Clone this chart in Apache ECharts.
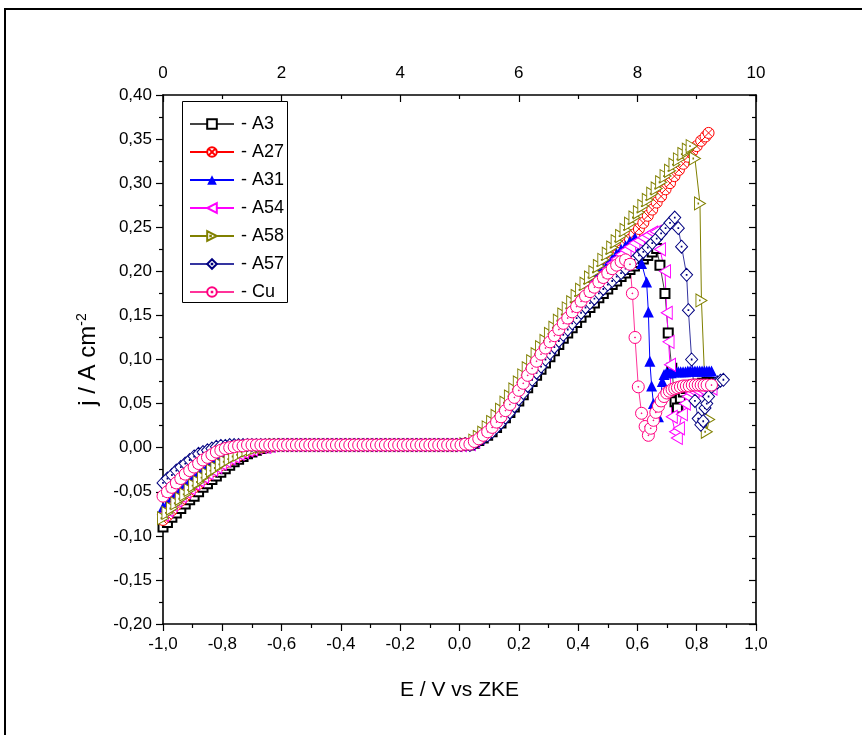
<!DOCTYPE html>
<html>
<head>
<meta charset="utf-8">
<script src="https://cdn.jsdelivr.net/npm/echarts@6/dist/echarts.min.js"></script>
<style>
html,body{margin:0;padding:0;background:#fff;}
#c{width:862px;height:735px;}
</style>
</head>
<body>
<div id="c"></div>
<script>
// Potential grid (V vs ZKE), 0.015 V steps
const potentialNeg = [-1.000,-0.985,-0.970,-0.955,-0.940,-0.925,-0.910,-0.895,-0.880,-0.865,-0.850,-0.835,-0.820,-0.805,-0.790,-0.775,-0.760,-0.745,-0.730,-0.715,-0.700,-0.685,-0.670,-0.655,-0.640];
const potentialFlat = [-0.625,-0.610,-0.595,-0.580,-0.565,-0.550,-0.535,-0.520,-0.505,-0.490,-0.475,-0.460,-0.445,-0.430,-0.415,-0.400,-0.385,-0.370,-0.355,-0.340,-0.325,-0.310,
  -0.295,-0.280,-0.265,-0.250,-0.235,-0.220,-0.205,-0.190,-0.175,-0.160,-0.145,-0.130,-0.115,-0.100,-0.085,-0.070,-0.055,-0.040,-0.025,-0.010,0.005,0.020];
const potentialRise = [0.035,0.050,0.065,0.080,0.095,0.110,0.125,0.140,0.155,0.170,0.185,0.200,0.215,0.230,0.245,0.260,0.275,0.290,0.305,0.320,0.335,0.350,0.365,0.380,0.395,0.410,0.425,0.440,0.455,0.470,0.485,0.500,0.515,0.530,0.545,0.560];

// passive plateau, common to all curves
const plateau = [0.003,0.003,0.003,0.003,0.003,0.003,0.003,0.003,0.003,0.003,0.003,0.003,0.003,0.003,0.003,0.003,0.003,0.003,0.003,0.003,0.003,0.003,
  0.003,0.003,0.003,0.003,0.003,0.003,0.003,0.003,0.003,0.003,0.003,0.003,0.003,0.003,0.003,0.003,0.003,0.003,0.003,0.003,0.003,0.004];

// cathodic branch
const negA3  = [-0.090,-0.085,-0.079,-0.074,-0.069,-0.064,-0.059,-0.055,-0.050,-0.045,-0.041,-0.036,-0.032,-0.028,-0.024,-0.020,-0.016,-0.013,-0.010,-0.007,-0.005,-0.003,-0.001,0.000,0.001];
const negA27 = [-0.082,-0.077,-0.071,-0.065,-0.060,-0.055,-0.050,-0.045,-0.041,-0.036,-0.032,-0.027,-0.024,-0.020,-0.017,-0.014,-0.011,-0.009,-0.006,-0.004,-0.003,-0.001,0.000,0.001,0.001];
const negA31 = [-0.068,-0.063,-0.057,-0.052,-0.047,-0.042,-0.038,-0.033,-0.029,-0.025,-0.021,-0.017,-0.014,-0.011,-0.008,-0.006,-0.004,-0.002,-0.001,0.000,0.001,0.002,0.002,0.003,0.003];
const negA54 = [-0.076,-0.071,-0.065,-0.060,-0.055,-0.050,-0.046,-0.041,-0.037,-0.033,-0.029,-0.025,-0.022,-0.018,-0.015,-0.012,-0.010,-0.007,-0.005,-0.003,-0.002,0.000,0.001,0.001,0.002];
const negA58 = [-0.080,-0.074,-0.069,-0.063,-0.058,-0.053,-0.048,-0.043,-0.039,-0.034,-0.030,-0.026,-0.023,-0.019,-0.016,-0.013,-0.010,-0.008,-0.005,-0.003,-0.002,0.000,0.001,0.001,0.002];
const negA57 = [-0.040,-0.035,-0.031,-0.026,-0.022,-0.018,-0.014,-0.010,-0.007,-0.005,-0.003,-0.001,0.001,0.002,0.002,0.003,0.003,0.003,0.003,0.003,0.003,0.003,0.003,0.003,0.003];
const negCu  = [-0.055,-0.050,-0.045,-0.040,-0.035,-0.030,-0.026,-0.022,-0.018,-0.014,-0.011,-0.008,-0.005,-0.003,-0.001,0.000,0.001,0.002,0.002,0.003,0.003,0.003,0.003,0.003,0.003];

// anodic rise
const riseA3  = [0.003,0.005,0.008,0.011,0.014,0.018,0.023,0.028,0.034,0.040,0.046,0.053,0.060,0.068,0.075,0.082,0.089,0.096,0.103,0.110,0.117,0.124,0.130,0.136,0.142,0.148,0.154,0.159,0.164,0.170,0.175,0.180,0.185,0.189,0.194,0.198];
const riseA27 = [0.004,0.007,0.011,0.016,0.021,0.027,0.033,0.040,0.047,0.054,0.062,0.069,0.077,0.084,0.092,0.100,0.107,0.115,0.122,0.129,0.136,0.143,0.150,0.157,0.163,0.169,0.175,0.181,0.187,0.193,0.199,0.205,0.212,0.218,0.224,0.230];
const riseA31 = [0.004,0.007,0.011,0.016,0.020,0.026,0.032,0.038,0.045,0.053,0.061,0.070,0.078,0.086,0.095,0.103,0.110,0.118,0.125,0.133,0.140,0.147,0.154,0.161,0.167,0.173,0.180,0.186,0.192,0.198,0.203,0.209,0.214,0.220,0.225,0.229];
const riseA54 = [0.004,0.007,0.011,0.015,0.020,0.025,0.031,0.037,0.044,0.052,0.060,0.068,0.076,0.084,0.092,0.100,0.108,0.115,0.122,0.130,0.137,0.144,0.150,0.157,0.163,0.169,0.175,0.181,0.187,0.192,0.198,0.203,0.209,0.214,0.219,0.224];
const riseA58 = [0.004,0.008,0.012,0.017,0.023,0.029,0.036,0.043,0.051,0.058,0.066,0.074,0.082,0.090,0.098,0.106,0.114,0.121,0.129,0.136,0.144,0.151,0.158,0.165,0.172,0.179,0.186,0.193,0.199,0.206,0.213,0.220,0.227,0.234,0.240,0.247];
const riseA57 = [0.003,0.005,0.008,0.011,0.014,0.018,0.023,0.028,0.034,0.040,0.047,0.055,0.062,0.070,0.077,0.085,0.092,0.100,0.107,0.114,0.121,0.128,0.134,0.141,0.147,0.153,0.159,0.164,0.169,0.175,0.180,0.185,0.189,0.194,0.198,0.203];
const riseCu  = [0.004,0.007,0.010,0.014,0.018,0.023,0.029,0.035,0.042,0.049,0.057,0.065,0.073,0.082,0.090,0.098,0.106,0.113,0.120,0.127,0.134,0.141,0.147,0.154,0.160,0.166,0.172,0.177,0.182,0.188,0.193,0.198,0.203,0.207,0.211,0.213];

// peak, breakdown and secondary plateau
const tailXA3  = [0.575,0.590,0.605,0.620,0.635,0.650,0.665,0.676,0.693,0.704,0.716,0.727,0.735,0.745,0.755,0.765,0.775,0.790,0.805,0.820,0.835,0.850];
const tailYA3  = [0.202,0.206,0.210,0.214,0.218,0.222,0.226,0.207,0.175,0.130,0.090,0.052,0.045,0.056,0.063,0.067,0.069,0.071,0.072,0.073,0.074,0.074];
const tailXA27 = [0.575,0.590,0.605,0.620,0.635,0.650,0.665,0.680,0.695,0.710,0.725,0.740,0.755,0.770,0.785,0.800,0.815,0.830,0.840];
const tailYA27 = [0.236,0.242,0.248,0.255,0.263,0.270,0.278,0.285,0.293,0.300,0.308,0.315,0.322,0.330,0.336,0.342,0.348,0.353,0.357];
const tailXA31 = [0.575,0.592,0.605,0.614,0.631,0.637,0.642,0.648,0.654,0.662,0.671,0.678,0.684,0.690,0.698,0.706,0.714,0.722,0.730,0.738,0.746,0.754,0.762,0.770,0.778,0.786,0.794,0.802,0.810,0.818,0.826,0.834,0.842,0.850];
const tailYA31 = [0.234,0.238,0.224,0.209,0.188,0.154,0.098,0.070,0.050,0.038,0.035,0.055,0.075,0.083,0.085,0.085,0.085,0.086,0.086,0.086,0.086,0.086,0.086,0.087,0.087,0.087,0.087,0.087,0.087,0.087,0.087,0.087,0.087,0.087];
const tailXA54 = [0.575,0.590,0.605,0.620,0.635,0.650,0.662,0.676,0.693,0.699,0.705,0.710,0.716,0.727,0.733,0.740,0.750,0.760,0.770,0.780,0.790,0.800,0.815,0.830,0.850];
const tailYA54 = [0.228,0.232,0.235,0.238,0.241,0.244,0.245,0.225,0.200,0.153,0.120,0.094,0.035,0.018,0.011,0.022,0.038,0.050,0.058,0.062,0.064,0.065,0.066,0.067,0.067];
const tailXA58 = [0.575,0.590,0.605,0.620,0.635,0.650,0.665,0.680,0.695,0.710,0.725,0.740,0.755,0.770,0.783,0.794,0.811,0.816,0.834,0.842];
const tailYA58 = [0.254,0.261,0.267,0.274,0.281,0.288,0.294,0.301,0.308,0.314,0.321,0.327,0.333,0.338,0.342,0.328,0.277,0.167,0.018,0.032];
const tailXA57 = [0.575,0.590,0.605,0.620,0.635,0.650,0.665,0.680,0.695,0.710,0.726,0.738,0.749,0.766,0.772,0.783,0.794,0.805,0.814,0.822,0.828,0.834,0.840,0.850,0.860,0.870,0.880,0.890];
const tailYA57 = [0.208,0.213,0.218,0.222,0.227,0.232,0.237,0.243,0.249,0.255,0.261,0.249,0.228,0.196,0.156,0.100,0.053,0.033,0.026,0.030,0.045,0.050,0.058,0.069,0.072,0.074,0.076,0.077];
const tailXCu  = [0.575,0.583,0.592,0.603,0.614,0.626,0.637,0.645,0.654,0.662,0.671,0.680,0.690,0.699,0.708,0.717,0.726,0.735,0.745,0.755,0.765,0.775,0.785,0.795,0.805,0.815,0.825,0.835,0.850];
const tailYCu  = [0.208,0.175,0.125,0.069,0.039,0.024,0.014,0.022,0.031,0.040,0.047,0.053,0.058,0.062,0.064,0.066,0.067,0.068,0.069,0.070,0.070,0.070,0.071,0.071,0.071,0.071,0.071,0.071,0.071];

const names = ['A3','A27','A31','A54','A58','A57','Cu'];

const potential = potentialNeg.concat(potentialFlat, potentialRise);
function build(neg, rise, tx, ty) {
  const vals = neg.concat(plateau, rise);
  const d = potential.map((v, i) => [v, vals[i]]);
  return d.concat(tx.map((v, i) => [v, ty[i]]));
}

const DOT = 'M9.4,9.4L10.6,9.4L10.6,10.6L9.4,10.6Z';
const circleX   = 'path://M10,0A10,10,0,1,1,10,20A10,10,0,1,1,10,0ZM2.9,2.9L17.1,17.1M17.1,2.9L2.9,17.1';
const circleDot = 'path://M10,0A10,10,0,1,1,10,20A10,10,0,1,1,10,0Z' + DOT;
const diamondDot = 'path://M10,0L20,10L10,20L0,10Z' + DOT;
const triRightDot = 'path://M0,0L20,10L0,20Z' + 'M6.4,9.4L7.6,9.4L7.6,10.6L6.4,10.6Z';
const triLeft = 'path://M20,0L0,10L20,20Z';

const FONT = 'Liberation Sans, Arial, sans-serif';

function hollow(c) { return {color:'#fff', borderColor:c, borderWidth:1}; }

const series = [
  {name:'A3', data: build(negA3, riseA3, tailXA3, tailYA3), symbol:'emptyRect', symbolSize:9,
   itemStyle:{color:'#000'}, lineStyle:{color:'#444', width:1}},
  {name:'A27', data: build(negA27, riseA27, tailXA27, tailYA27), symbol:circleX, symbolSize:11,
   itemStyle:hollow('#ff0000'), lineStyle:{color:'#ff0000', width:1}},
  {name:'A31', data: build(negA31, riseA31, tailXA31, tailYA31), symbol:'triangle', symbolSize:11,
   itemStyle:{color:'#0000ff'}, lineStyle:{color:'#0000ff', width:1}},
  {name:'A54', data: build(negA54, riseA54, tailXA54, tailYA54), symbol:triLeft, symbolSize:[11,13],
   itemStyle:hollow('#ff00ff'), lineStyle:{color:'#ff00ff', width:1}},
  {name:'A58', data: build(negA58, riseA58, tailXA58, tailYA58), symbol:triRightDot, symbolSize:[11,13],
   itemStyle:hollow('#808000'), lineStyle:{color:'#808000', width:1}},
  {name:'A57', data: build(negA57, riseA57, tailXA57, tailYA57), symbol:diamondDot, symbolSize:[12,13],
   itemStyle:hollow('#000080'), lineStyle:{color:'#3535a0', width:1}},
  {name:'Cu', data: build(negCu, riseCu, tailXCu, tailYCu), symbol:circleDot, symbolSize:12,
   itemStyle:hollow('#ff0080'), lineStyle:{color:'#ff3399', width:1}}
].map(s => Object.assign({type:'line', showSymbol:true, xAxisIndex:0, yAxisIndex:0, animation:false}, s));

const axisLineStyle = {onZero:false, lineStyle:{color:'#000', width:1.6}};
const labelStyle = {color:'#000', fontSize:17, fontFamily:FONT};

const chart = echarts.init(document.getElementById('c'), null, {renderer:'canvas'});
chart.setOption({
  animation:false,
  backgroundColor:'#fff',
  grid:{left:163, right:106, top:95, bottom:111, containLabel:false},
  xAxis:[
    {type:'value', position:'bottom', min:-1, max:1, interval:0.2,
     axisLine:axisLineStyle, splitLine:{show:false},
     axisTick:{show:true, inside:false, length:7, lineStyle:{color:'#000', width:1.2}},
     minorTick:{show:true, splitNumber:2, length:4, lineStyle:{color:'#000', width:1.2}},
     axisLabel:Object.assign({margin:12, formatter:v => v.toFixed(1).replace('.', ',')}, labelStyle),
     name:'E / V vs ZKE', nameLocation:'middle', nameGap:56,
     nameTextStyle:{color:'#000', fontSize:21, fontFamily:FONT}},
    {type:'value', position:'top', min:0, max:10, interval:2,
     axisLine:axisLineStyle, splitLine:{show:false},
     axisTick:{show:true, inside:true, length:7, lineStyle:{color:'#000', width:1.2}},
     minorTick:{show:true, splitNumber:2, length:4, lineStyle:{color:'#000', width:1.2}},
     axisLabel:Object.assign({margin:13, formatter:v => String(v)}, labelStyle)}
  ],
  yAxis:[
    {type:'value', position:'left', min:-0.2, max:0.4, interval:0.05,
     axisLine:axisLineStyle, splitLine:{show:false},
     axisTick:{show:true, inside:false, length:7, lineStyle:{color:'#000', width:1.2}},
     minorTick:{show:true, splitNumber:2, length:4, lineStyle:{color:'#000', width:1.2}},
     axisLabel:Object.assign({margin:11, formatter:v => v.toFixed(2).replace('.', ',')}, labelStyle),
     name:'{a|j / A cm}{s|-2}', nameLocation:'middle', nameGap:62, nameRotate:90,
     nameTextStyle:{color:'#000', fontSize:24, fontFamily:FONT,
       rich:{a:{fontSize:24, fontFamily:FONT, color:'#000'},
             s:{fontSize:14, fontFamily:FONT, color:'#000', verticalAlign:'top', padding:[0,0,12,0]}}}},
    {type:'value', position:'right', min:-0.2, max:0.4, interval:0.05,
     axisLine:axisLineStyle, splitLine:{show:false},
     axisTick:{show:true, inside:true, length:7, lineStyle:{color:'#000', width:1.2}},
     minorTick:{show:true, splitNumber:2, length:4, lineStyle:{color:'#000', width:1.2}},
     axisLabel:{show:false}}
  ],
  legend:{
    orient:'vertical', left:184, top:110, itemWidth:44, itemHeight:12, itemGap:10,
    data:names, formatter: n => '- ' + n,
    textStyle:{color:'#000', fontSize:18, fontFamily:FONT, padding:[0,0,0,2]},
    selectedMode:false
  },
  graphic:[
    {type:'rect', shape:{x:5, y:9, width:900, height:800}, style:{fill:'none', stroke:'#000', lineWidth:2}, silent:true, z:-1},
    {type:'rect', shape:{x:182.5, y:101.5, width:105, height:201}, style:{fill:'#fff', stroke:'#000', lineWidth:1}, silent:true, z:1}
  ],
  series: series
});
</script>
</body>
</html>
